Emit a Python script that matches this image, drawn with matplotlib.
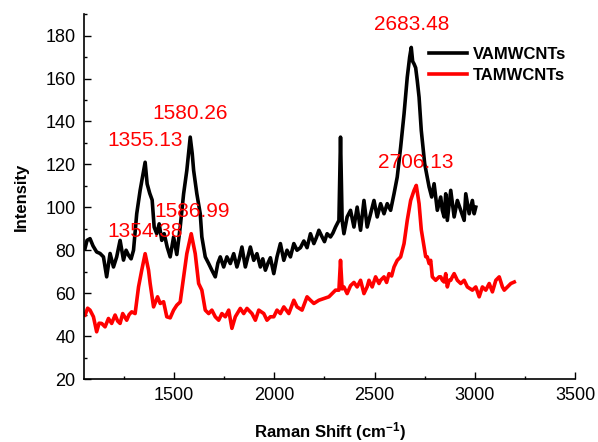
import matplotlib
matplotlib.use("Agg")
import matplotlib.pyplot as plt
from matplotlib.ticker import MultipleLocator

plt.rcParams['font.family'] = ['Liberation Sans', 'DejaVu Sans']
plt.rcParams['mathtext.default'] = 'regular'

# VAMWCNTs spectrum
va_shift = [1055, 1065, 1080, 1095, 1113, 1130, 1147, 1163, 1180, 1197, 1213, 1230, 1247, 1260,
            1272, 1285, 1297, 1313, 1330, 1345, 1355, 1365, 1378, 1390, 1400, 1413, 1425, 1438,
            1450, 1465, 1480, 1497, 1513, 1530, 1547, 1563, 1580, 1590, 1597, 1613, 1630, 1638,
            1655, 1672, 1688, 1705, 1718, 1730, 1747, 1763, 1780, 1797, 1813, 1825, 1838, 1855,
            1868, 1880, 1897, 1913, 1930, 1942, 1955, 1968, 1980, 1997, 2013, 2030, 2047, 2063,
            2080, 2097, 2113, 2130, 2147, 2163, 2180, 2197, 2210, 2222, 2238, 2250, 2263, 2280,
            2292, 2305, 2322, 2330, 2338, 2347, 2363, 2380, 2397, 2413, 2430, 2447, 2463, 2480,
            2497, 2513, 2530, 2547, 2563, 2580, 2597, 2613, 2630, 2647, 2663, 2675, 2683, 2690,
            2697, 2705, 2713, 2722, 2733, 2750, 2772, 2785, 2797, 2813, 2830, 2838, 2847, 2855,
            2863, 2880, 2897, 2913, 2930, 2947, 2955, 2972, 2988, 2997, 3005]
va_int = [80.8, 84.6, 85.4, 82.0, 79.2, 78.5, 76.9, 67.6, 78.5, 72.2, 76.9, 84.6, 75.4, 80.0,
          77.7, 76.0, 80.0, 97.0, 107.9, 115.6, 121.0, 110.9, 106.5, 103.4, 90.8, 87.7, 92.3, 84.6,
          87.7, 81.5, 76.9, 86.2, 78.0, 90.8, 106.3, 117.2, 132.7, 125.0, 117.2, 106.3, 97.0, 86.2,
          76.9, 73.8, 70.7, 67.6, 74.0, 76.9, 72.2, 76.9, 73.8, 78.4, 72.2, 76.0, 81.5, 72.2,
          77.0, 81.5, 75.3, 78.4, 72.2, 76.0, 70.7, 74.0, 76.5, 69.1, 76.9, 83.1, 75.3, 80.0,
          76.9, 83.1, 80.0, 81.2, 84.3, 81.2, 87.7, 83.1, 86.0, 89.3, 86.2, 84.0, 87.7, 86.2,
          88.0, 90.8, 93.9, 132.7, 93.9, 87.7, 95.5, 98.6, 90.8, 100.1, 89.3, 103.2, 90.8, 97.0,
          103.2, 95.5, 101.7, 97.0, 101.7, 98.6, 106.3, 114.1, 128.0, 143.5, 160.6, 170.0, 174.5, 168.0,
          166.8, 165.0, 159.0, 151.3, 135.8, 120.3, 109.5, 104.8, 111.0, 98.6, 104.8, 98.6, 95.5, 106.3,
          93.9, 107.9, 95.5, 103.2, 98.6, 93.9, 106.3, 97.0, 103.2, 97.0, 100.1]

# TAMWCNTs spectrum
ta_shift = [1055, 1068, 1080, 1097, 1113, 1125, 1138, 1155, 1172, 1188, 1205, 1218, 1230, 1243,
            1263, 1275, 1288, 1305, 1322, 1338, 1355, 1372, 1380, 1397, 1417, 1430, 1447, 1463,
            1480, 1497, 1513, 1530, 1547, 1563, 1585, 1605, 1622, 1638, 1655, 1672, 1688, 1705,
            1722, 1738, 1755, 1772, 1788, 1805, 1830, 1847, 1863, 1888, 1905, 1922, 1947, 1963,
            1980, 1997, 2013, 2030, 2047, 2072, 2097, 2113, 2138, 2163, 2180, 2197, 2222, 2247,
            2272, 2288, 2305, 2322, 2330, 2338, 2347, 2363, 2380, 2397, 2413, 2430, 2447, 2463,
            2472, 2488, 2505, 2522, 2530, 2547, 2560, 2572, 2585, 2597, 2613, 2630, 2647, 2663,
            2680, 2697, 2708, 2722, 2733, 2755, 2763, 2772, 2780, 2788, 2805, 2822, 2830, 2838,
            2847, 2855, 2863, 2872, 2880, 2888, 2897, 2913, 2930, 2947, 2963, 2988, 3005, 3022,
            3038, 3055, 3072, 3088, 3105, 3122, 3138, 3147, 3163, 3180, 3197]
ta_int = [49.8, 53.0, 52.1, 49.0, 42.0, 46.0, 45.9, 44.3, 48.2, 45.9, 49.8, 47.0, 45.9, 50.5,
          47.4, 50.0, 51.3, 50.5, 62.9, 70.7, 78.4, 70.7, 64.5, 53.6, 58.3, 55.2, 56.0, 49.0,
          48.5, 52.1, 54.4, 55.9, 67.6, 78.4, 87.7, 78.4, 64.5, 61.4, 52.1, 50.5, 52.1, 49.0,
          47.4, 50.5, 49.0, 52.1, 43.6, 49.0, 52.9, 50.5, 52.9, 50.5, 47.4, 52.1, 50.5, 47.4,
          49.0, 49.0, 52.1, 50.5, 53.6, 50.5, 56.7, 53.6, 52.1, 58.3, 56.7, 55.2, 56.7, 57.5,
          58.3, 59.8, 61.4, 61.4, 75.3, 62.0, 62.9, 59.8, 63.5, 65.0, 62.9, 66.0, 59.8, 63.0,
          66.0, 62.9, 67.6, 64.5, 66.0, 67.6, 65.0, 69.1, 68.0, 72.2, 75.3, 76.9, 83.1, 93.9,
          103.2, 107.9, 110.2, 101.7, 89.6, 77.0, 76.9, 73.8, 75.3, 67.6, 66.0, 67.6, 67.6, 66.0,
          65.2, 69.1, 62.9, 66.0, 66.0, 67.6, 69.1, 66.0, 64.5, 66.0, 62.9, 61.4, 62.9, 58.3,
          62.9, 61.4, 64.5, 60.6, 66.0, 67.6, 62.9, 61.4, 62.9, 64.5, 65.2]

# peak labels: text, x, y
peak_text = ['1355.13', '1580.26', '2683.48', '1354.38', '1586.99', '2706.13']
peak_x = [1355, 1580, 2684, 1355, 1588, 2705]
peak_y = [131.3, 143.9, 185.4, 88.5, 98.1, 121.0]

fig = plt.figure(figsize=(5.98, 4.42), dpi=100)
ax = fig.add_axes([0.1405, 0.1425, 0.821, 0.8255])

ax.plot(va_shift, va_int, color='black', lw=2.6, label='VAMWCNTs')
ax.plot(ta_shift, ta_int, color='#ff0000', lw=2.6, label='TAMWCNTs')

for t, x, y in zip(peak_text, peak_x, peak_y):
    ax.text(x, y, t, color='#ff0000', fontsize=15, ha='center', va='center')

ax.set_xlim(1050, 3500)
ax.set_ylim(20, 190)
ax.xaxis.set_major_locator(MultipleLocator(500))
ax.xaxis.set_minor_locator(MultipleLocator(250))
ax.yaxis.set_major_locator(MultipleLocator(20))
ax.yaxis.set_minor_locator(MultipleLocator(10))
ax.tick_params(which='major', direction='in', length=5, width=1, labelsize=13)
ax.tick_params(axis='y', which='major', pad=6)
ax.tick_params(axis='x', which='major', pad=5.5)
ax.tick_params(which='minor', direction='in', length=2.5, width=1)
ax.spines['top'].set_visible(False)
ax.spines['right'].set_visible(False)
ax.spines['left'].set_linewidth(1.2)
ax.spines['bottom'].set_linewidth(1.2)

ax.set_xlabel('Raman Shift (cm$^{-1}$)', fontsize=12, fontweight='bold', labelpad=12)
ax.set_ylabel('Intensity', fontsize=12, fontweight='bold', labelpad=12)

ax.legend(loc='upper left', bbox_to_anchor=(0.703, 0.91), frameon=False,
          prop={'size': 12, 'weight': 'bold'}, handlelength=2.3, handletextpad=0.3,
          labelspacing=0.35, borderpad=0, borderaxespad=0)

fig.savefig('out.png', dpi=100)
